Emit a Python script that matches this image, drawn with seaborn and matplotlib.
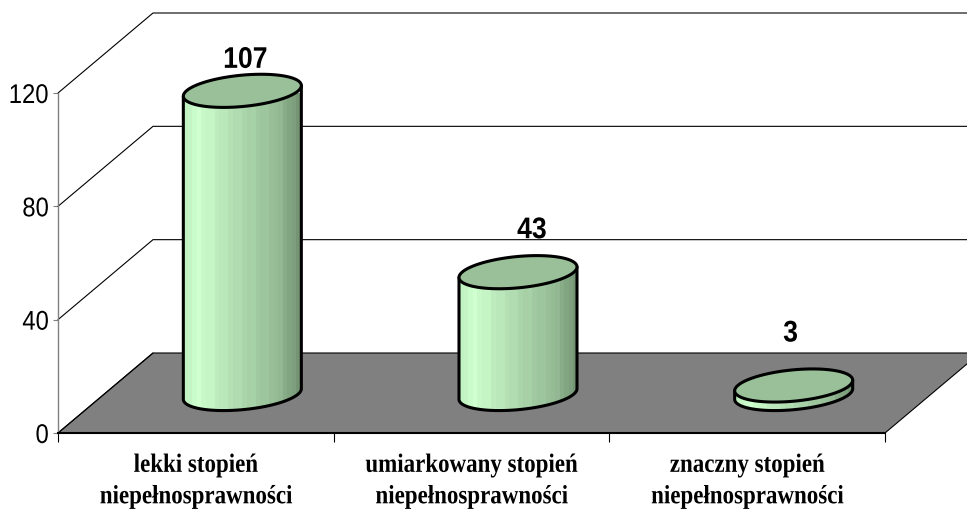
import numpy as np
import pandas as pd
import matplotlib
matplotlib.use('Agg')
import matplotlib.pyplot as plt
from matplotlib.path import Path
from matplotlib.patches import PathPatch
from matplotlib.patheffects import AbstractPathEffect
from matplotlib.transforms import Affine2D
import seaborn as sns

# data
categories = ['lekki stopień\nniepełnosprawności',
              'umiarkowany stopień\nniepełnosprawności',
              'znaczny stopień\nniepełnosprawności']
values = [107, 43, 3]
y_ticks = [0, 40, 80, 120]

df = pd.DataFrame({'stopien': categories, 'liczba': values})

sns.set_style('white')
plt.rcParams['font.family'] = ['Liberation Sans', 'DejaVu Sans']


# the original uses narrow fonts, none installed, so squeeze the glyphs sideways
class Squeeze(AbstractPathEffect):
    def __init__(self, sx, anchor='center'):
        super().__init__()
        self.sx = sx
        self.anchor = anchor

    def draw_path(self, renderer, gc, tpath, affine, rgbFace=None):
        box = tpath.get_extents()
        x_ref = box.x1 if self.anchor == 'right' else (box.x0 + box.x1) / 2
        squeeze = Affine2D().translate(-x_ref, 0).scale(self.sx, 1).translate(x_ref, 0)
        renderer.draw_path(gc, tpath, squeeze + affine, rgbFace)


W, H = 967, 510
px_x = 827 / 3      # pixels per category
px_y = 340 / 120    # pixels per value

fig = plt.figure(figsize=(W / 100, H / 100), dpi=100)
ax = fig.add_axes([58 / W, (H - 434) / H, 827 / W, 340 / H])

# the plain bars give the geometry, the cylinders are painted over them
sns.barplot(data=df, x='stopien', y='liczba', width=118 / px_x, ax=ax, color='#99c099')
bars = list(ax.patches)
ax.set_xlim(-0.5, 2.5)
ax.set_ylim(0, 120)
ax.set_xlabel('')
ax.set_ylabel('')

# 3d depth of the box, in data units
depth_x = 95 / px_x
depth_y = 80 / px_y
bar_dx = 46.5 / px_x
bar_dy = 39 / px_y
ell_b = 15.7 / px_y
ell_k = 5.3 / px_y

# floor
ax.fill([-0.5, 2.5, 2.5 + depth_x, -0.5 + depth_x],
        [0, 0, depth_y, depth_y],
        facecolor='#808080', edgecolor='black', linewidth=0.8, clip_on=False, zorder=1)

# walls: gridlines and their diagonals
for v in y_ticks[1:]:
    ax.plot([-0.5, -0.5 + depth_x, 2.5 + depth_x], [v, v + depth_y, v + depth_y],
            color='black', linewidth=0.8, clip_on=False, zorder=1)
ax.plot([-0.5, -0.5 + depth_x], [0, depth_y], color='black', linewidth=0.8, clip_on=False, zorder=1)

# vertical bands of the cylinder shading
n_bands = 26
pos = np.linspace(0, 1, n_bands)
stops = [0, 0.1, 0.5, 0.8, 1]
reds = np.interp(pos, stops, [190, 206, 172, 150, 116])
greens = np.interp(pos, stops, [238, 255, 214, 188, 148])
blues = np.interp(pos, stops, [190, 206, 172, 150, 116])
shade = np.dstack([reds, greens, blues]) / 255
shade[:, ::3] = np.minimum(shade[:, ::3] * 1.02, 1)   # faint stripes

t_low = np.linspace(np.pi, 2 * np.pi, 80)
t_all = np.linspace(0, 2 * np.pi, 160)

for patch in bars:
    x0 = patch.get_x() + bar_dx
    w = patch.get_width()
    h = patch.get_height()
    patch.set_visible(False)
    a = w / 2
    cx = x0 + a
    y_base = bar_dy
    y_top = bar_dy + h

    low_x = cx + a * np.cos(t_low)
    low_y = y_base + ell_b * np.sin(t_low) + ell_k * np.cos(t_low)
    top_x = cx + a * np.cos(t_all)
    top_y = y_top + ell_b * np.sin(t_all) + ell_k * np.cos(t_all)

    # body outline: left side, bottom arc, right side
    side_x = np.r_[cx - a, low_x, cx + a]
    side_y = np.r_[y_top - ell_k, low_y, y_top + ell_k]

    im = ax.imshow(shade, extent=[x0, x0 + w, 0, y_top + ell_b], aspect='auto',
                   interpolation='nearest', zorder=3)
    clip = PathPatch(Path(np.c_[side_x, side_y]), transform=ax.transData)
    im.set_clip_path(clip)
    ax.plot(side_x, side_y, color='black', linewidth=2.2, zorder=4,
            solid_joinstyle='round', clip_on=False)
    ax.fill(top_x, top_y, facecolor='#99c099', edgecolor='black', linewidth=2.2,
            zorder=5, clip_on=False)

ax.set_xlim(-0.5, 2.5)
ax.set_ylim(0, 120)

# value labels, nudged by hand like in the original
label_nudge = [(3, 31), (14, 42), (-3, 52)]
for i, v in enumerate(values):
    t = ax.annotate(str(v), (i + bar_dx, v + bar_dy), xytext=label_nudge[i],
                    textcoords='offset pixels', ha='center', va='center',
                    fontsize=21.5, fontweight='bold', color='black', zorder=6,
                    annotation_clip=False)
    t.set_path_effects([Squeeze(0.89)])

# axes
sns.despine(ax=ax, top=True, right=True)
ax.spines['left'].set_color('#808080')
ax.spines['left'].set_linewidth(1.0)
ax.spines['left'].set_zorder(2)
ax.spines['bottom'].set_color('black')
ax.spines['bottom'].set_linewidth(1.5)
ax.spines['bottom'].set_zorder(2)

ax.set_yticks(y_ticks)
ax.tick_params(axis='y', left=True, length=3.6, width=0.8, color='#808080',
               labelcolor='black', labelsize=19.5, pad=3)
for label in ax.get_yticklabels():
    label.set_path_effects([Squeeze(0.88, anchor='right')])

ax.set_xticks([-0.5, 0.5, 1.5, 2.5], minor=True)
ax.set_xticks(range(len(categories)))
ax.set_xticklabels(categories, family='Liberation Serif', fontweight='bold',
                   fontsize=19, linespacing=1.47, color='black')
for label in ax.get_xticklabels():
    label.set_path_effects([Squeeze(0.87)])
ax.tick_params(axis='x', which='major', bottom=False, pad=11.5)
ax.tick_params(axis='x', which='minor', bottom=True, length=6.5, width=0.8, color='black')

fig.savefig('out.png', dpi=100)
